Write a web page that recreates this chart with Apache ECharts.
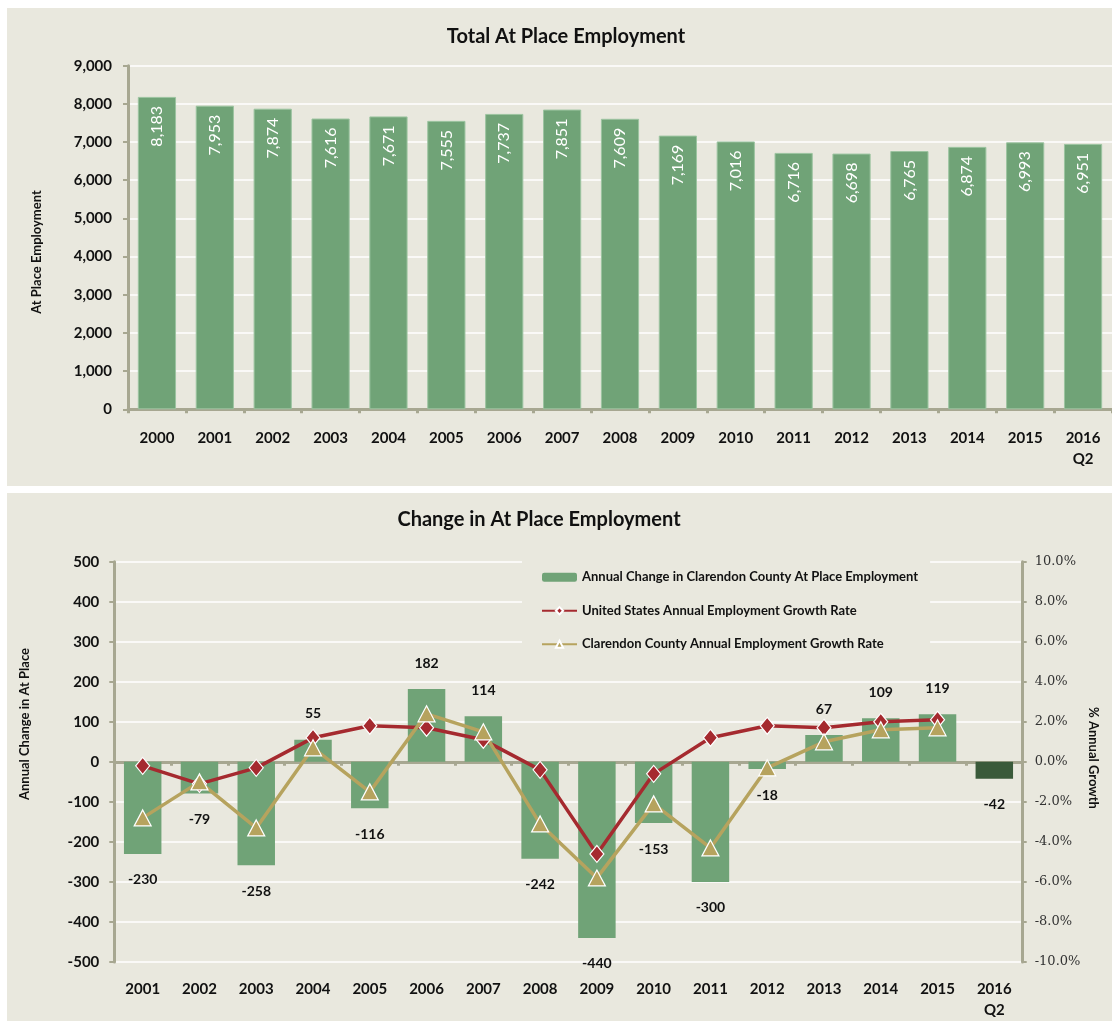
<!DOCTYPE html>
<html>
<head>
<meta charset="utf-8">
<script src="https://cdn.jsdelivr.net/npm/echarts@6/dist/echarts.min.js"></script>
<style>
html,body{margin:0;padding:0;background:#ffffff;}
#chart{width:1112px;height:1021px;}
</style>
</head>
<body>
<div id="chart"></div>
<script>
// ---- data ----
const totalYears = ['2000','2001','2002','2003','2004','2005','2006','2007','2008','2009','2010','2011','2012','2013','2014','2015','2016\nQ2'];
const totalEmployment = [8183,7953,7874,7616,7671,7555,7737,7851,7609,7169,7016,6716,6698,6765,6874,6993,6951];

const changeYears = ['2001','2002','2003','2004','2005','2006','2007','2008','2009','2010','2011','2012','2013','2014','2015','2016\nQ2'];
const annualChange = [-230,-79,-258,55,-116,182,114,-242,-440,-153,-300,-18,67,109,119,-42];
const usGrowth = [-0.2,-1.1,-0.3,1.2,1.8,1.7,1.1,-0.4,-4.6,-0.6,1.2,1.8,1.7,2.0,2.1];
const countyGrowth = [-2.8,-1.0,-3.3,0.7,-1.5,2.4,1.5,-3.1,-5.8,-2.1,-4.3,-0.3,1.0,1.6,1.7];

const seriesNames = [
  'Annual Change in Clarendon County At Place Employment',
  'United States Annual Employment Growth Rate',
  'Clarendon County Annual Employment Growth Rate'
];

// ---- styles ----
const FONT = 'Lato, "Open Sans", sans-serif';
const PANEL = '#E9E8DE';
const AXIS = '#A7A791';
const GREEN = '#70A377';
const DARKGREEN = '#3A5A3A';
const RED = '#A52A2F';
const GOLD = '#B6A35E';
const TXT = '#111111';

const chart = echarts.init(document.getElementById('chart'));

const axisLineStyle = {show:true, lineStyle:{color:AXIS, width:3}};
const boldLabel = {color:TXT, fontFamily:FONT, fontWeight:'bold', fontSize:15};

chart.setOption({
  animation:false,
  backgroundColor:'#ffffff',
  graphic:[
    {type:'rect', z:-10, shape:{x:7,y:8,width:1105,height:478}, style:{fill:PANEL}, silent:true},
    {type:'rect', z:-10, shape:{x:7,y:493,width:1105,height:528}, style:{fill:PANEL}, silent:true},
    {type:'text', x:566, y:37, style:{text:'Total At Place Employment', fill:TXT, font:'bold 20px '+FONT, align:'center', verticalAlign:'middle'}},
    {type:'text', x:539, y:520, style:{text:'Change in At Place Employment', fill:TXT, font:'bold 20px '+FONT, align:'center', verticalAlign:'middle'}},
    {type:'text', x:37, y:252, rotation:Math.PI/2, style:{text:'At Place Employment', fill:TXT, font:'bold 13px '+FONT, align:'center', verticalAlign:'middle'}},
    {type:'text', x:25, y:724, rotation:Math.PI/2, style:{text:'Annual Change in At Place', fill:TXT, font:'bold 13px '+FONT, align:'center', verticalAlign:'middle'}},
    {type:'text', x:1093, y:758, rotation:-Math.PI/2, style:{text:'% Annual Growth', fill:TXT, font:'bold 13px '+FONT, align:'center', verticalAlign:'middle'}}
  ],
  legend:{
    orient:'vertical',
    left:522, top:555,
    padding:[15,12,12,19],
    backgroundColor:PANEL,
    itemWidth:35, itemHeight:9, itemGap:19,
    textStyle:{color:TXT, fontFamily:FONT, fontWeight:'bold', fontSize:13, lineHeight:14.5},
    data:seriesNames
  },
  grid:[
    {left:128, top:65.7, width:994.5, height:343.6},
    {left:114.3, top:561.7, width:908.4, height:406.6}
  ],
  xAxis:[
    {type:'category', gridIndex:0, data:totalYears,
     axisLine:axisLineStyle,
     axisTick:{show:true, alignWithLabel:false, length:4, lineStyle:{color:AXIS, width:3}},
     axisLabel:Object.assign({margin:18, lineHeight:21, interval:0}, boldLabel)},
    {type:'category', gridIndex:1, data:changeYears,
     axisLine:{show:true, onZero:true, lineStyle:{color:AXIS, width:3}},
     axisTick:{show:true, length:4, lineStyle:{color:AXIS, width:3}},
     axisLabel:{show:false}},
    {type:'category', gridIndex:1, data:changeYears, position:'bottom',
     axisLine:{show:false, onZero:false},
     axisTick:{show:false},
     axisLabel:Object.assign({margin:17, lineHeight:21, interval:0}, boldLabel)}
  ],
  yAxis:[
    {type:'value', gridIndex:0, min:0, max:9000, interval:1000,
     axisLine:axisLineStyle,
     axisTick:{show:true, length:5, lineStyle:{color:AXIS, width:2}},
     splitLine:{show:true, lineStyle:{color:'#ffffff', width:1.5}},
     axisLabel:Object.assign({margin:16, formatter:v=>v.toLocaleString('en-US')}, boldLabel)},
    {type:'value', gridIndex:1, min:-500, max:500, interval:100,
     axisLine:axisLineStyle,
     axisTick:{show:true, length:5, lineStyle:{color:AXIS, width:2}},
     splitLine:{show:true, lineStyle:{color:'#ffffff', width:1.5}},
     axisLabel:Object.assign({margin:15}, boldLabel)},
    {type:'value', gridIndex:1, position:'right', min:-10, max:10, interval:2,
     axisLine:axisLineStyle,
     axisTick:{show:true, length:4, lineStyle:{color:AXIS, width:2}},
     splitLine:{show:false},
     axisLabel:{margin:12, color:'#333333', fontFamily:'"DejaVu Serif", serif', fontSize:13, formatter:v=>v.toFixed(1)+'%'}}
  ],
  series:[
    {type:'bar', name:'Total At Place Employment', xAxisIndex:0, yAxisIndex:0,
     data:totalEmployment, barWidth:'66%',
     itemStyle:{color:GREEN, borderColor:'#9CC4A0', borderWidth:1},
     label:{show:true, position:'insideTop', rotate:90, align:'right', verticalAlign:'middle', distance:9,
            color:'#ffffff', fontFamily:FONT, fontSize:16,
            formatter:p=>p.value.toLocaleString('en-US')}},
    {type:'bar', name:seriesNames[0], xAxisIndex:1, yAxisIndex:1,
     barWidth:'66%',
     data:annualChange.map((v,i)=>({
       value:v,
       itemStyle:{color: i===annualChange.length-1 ? DARKGREEN : GREEN},
       label:{position: v<0 ? 'bottom' : 'top'}
     })),
     itemStyle:{color:GREEN},
     label:{show:true, distance:19, color:TXT, fontFamily:FONT, fontWeight:'bold', fontSize:14}},
    {type:'line', name:seriesNames[1], xAxisIndex:1, yAxisIndex:2,
     data:usGrowth, symbol:'diamond', symbolSize:[14,17],
     lineStyle:{color:RED, width:3.5},
     itemStyle:{color:RED, borderColor:'#ffffff', borderWidth:1.2}},
    {type:'line', name:seriesNames[2], xAxisIndex:1, yAxisIndex:2,
     data:countyGrowth, symbol:'triangle', symbolSize:[17,16],
     lineStyle:{color:GOLD, width:3.5},
     itemStyle:{color:GOLD, borderColor:'#ffffff', borderWidth:1.2}}
  ]
});
</script>
</body>
</html>
